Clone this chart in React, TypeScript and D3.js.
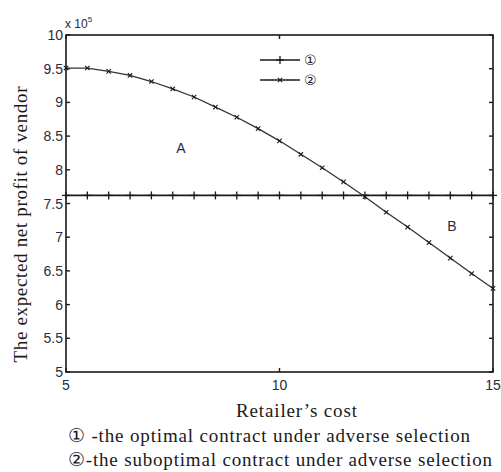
import React, { useEffect, useRef } from 'react'
import * as d3 from 'd3'

// Retailer's cost (x) and vendor profit (x 10^5)
const costs = [5, 5.5, 6, 6.5, 7, 7.5, 8, 8.5, 9, 9.5, 10, 10.5, 11, 11.5, 12, 12.5, 13, 13.5, 14, 14.5, 15]
const optimal = [7.62, 7.62, 7.62, 7.62, 7.62, 7.62, 7.62, 7.62, 7.62, 7.62, 7.62, 7.62, 7.62, 7.62, 7.62, 7.62, 7.62, 7.62, 7.62, 7.62, 7.62]
const suboptimal = [9.51, 9.51, 9.46, 9.40, 9.31, 9.20, 9.08, 8.93, 8.78, 8.61, 8.43, 8.23, 8.03, 7.82, 7.60, 7.37, 7.15, 6.92, 6.69, 6.46, 6.24]
const xTicks = [5, 10, 15]
const yTicks = [5, 5.5, 6, 6.5, 7, 7.5, 8, 8.5, 9, 9.5, 10]
const captions = ['\u2460 -the optimal contract under adverse selection', '\u2461-the suboptimal contract under adverse selection']

const W = 501
const H = 472
const SANS = "'Liberation Sans', Arial, sans-serif"
const SERIF = "'Liberation Serif', 'Times New Roman', serif"

export default function App() {
    const svgRef = useRef<SVGSVGElement>(null)

    useEffect(() => {
        if (!svgRef.current) return
        const svg = d3.select(svgRef.current)
        svg.selectAll('*').remove()

        const left = 66, right = 493, top = 35, bottom = 372
        const x = d3.scaleLinear().domain([5, 15]).range([left, right])
        const y = d3.scaleLinear().domain([5, 10]).range([bottom, top])
        const ink = '#1a1a1a'

        const g = svg.append('g')

        // frame
        g.append('rect')
            .attr('x', left).attr('y', top)
            .attr('width', right - left).attr('height', bottom - top)
            .attr('fill', 'none').attr('stroke', ink).attr('stroke-width', 1.6)

        // ticks, inward on all four sides
        yTicks.forEach(v => {
            g.append('line').attr('x1', left).attr('x2', left + 4).attr('y1', y(v)).attr('y2', y(v)).attr('stroke', ink).attr('stroke-width', 1.4)
            g.append('line').attr('x1', right).attr('x2', right - 4).attr('y1', y(v)).attr('y2', y(v)).attr('stroke', ink).attr('stroke-width', 1.4)
            g.append('text')
                .attr('x', left - 3).attr('y', y(v) + 5)
                .attr('text-anchor', 'end')
                .style('font-family', SANS)
                .style('font-size', '14px')
                .style('fill', '#2a2a3a')
                .text(String(v))
        })
        xTicks.forEach(v => {
            g.append('line').attr('x1', x(v)).attr('x2', x(v)).attr('y1', bottom).attr('y2', bottom - 4).attr('stroke', ink).attr('stroke-width', 1.4)
            g.append('line').attr('x1', x(v)).attr('x2', x(v)).attr('y1', top).attr('y2', top + 4).attr('stroke', ink).attr('stroke-width', 1.4)
            g.append('text')
                .attr('x', x(v)).attr('y', bottom + 18)
                .attr('text-anchor', 'middle')
                .style('font-family', SANS)
                .style('font-size', '14px')
                .style('fill', '#2a2a3a')
                .text(String(v))
        })

        // exponent label
        const ex = g.append('text')
            .attr('x', left - 1).attr('y', top - 7)
            .style('font-family', SANS)
            .style('font-size', '12px')
            .style('fill', '#2a2a3a')
        ex.append('tspan').text('x 10')
        ex.append('tspan').attr('dy', -6).style('font-size', '8px').text('5')

        const line = d3.line<number>().x((d, i) => x(costs[i])).y(d => y(d))

        const plus = (sel: any, cx: number, cy: number, s: number) => {
            sel.append('line').attr('x1', cx - s).attr('x2', cx + s).attr('y1', cy).attr('y2', cy).attr('stroke', ink).attr('stroke-width', 1.3)
            sel.append('line').attr('x1', cx).attr('x2', cx).attr('y1', cy - s).attr('y2', cy + s).attr('stroke', ink).attr('stroke-width', 1.3)
        }
        const cross = (sel: any, cx: number, cy: number, s: number) => {
            sel.append('line').attr('x1', cx - s).attr('x2', cx + s).attr('y1', cy - s).attr('y2', cy + s).attr('stroke', ink).attr('stroke-width', 1.1)
            sel.append('line').attr('x1', cx - s).attr('x2', cx + s).attr('y1', cy + s).attr('y2', cy - s).attr('stroke', ink).attr('stroke-width', 1.1)
        }

        // series 1 (+)
        g.append('path').datum(optimal).attr('d', line).attr('fill', 'none').attr('stroke', ink).attr('stroke-width', 1.6)
        optimal.forEach((v, i) => plus(g, x(costs[i]), y(v), 4))

        // series 2 (x)
        g.append('path').datum(suboptimal).attr('d', line).attr('fill', 'none').attr('stroke', '#333').attr('stroke-width', 1.3)
        suboptimal.forEach((v, i) => cross(g, x(costs[i]), y(v), 2.2))

        // legend
        const legend = [{ label: '\u2460', mark: plus, s: 4 }, { label: '\u2461', mark: cross, s: 2.2 }]
        legend.forEach((d, i) => {
            const ly = 60 + i * 20
            g.append('line').attr('x1', 260).attr('x2', 300).attr('y1', ly).attr('y2', ly).attr('stroke', ink).attr('stroke-width', 1.5)
            d.mark(g, 280, ly, d.s)
            g.append('text')
                .attr('x', 304).attr('y', ly + 5)
                .style('font-family', "'DejaVu Sans', sans-serif")
                .style('font-size', '14px')
                .style('fill', ink)
                .text(d.label)
        })

        // region labels
        g.append('text').attr('x', 181).attr('y', 153).attr('text-anchor', 'middle')
            .style('font-family', SANS).style('font-size', '14px').style('fill', '#2a2a3a').text('A')
        g.append('text').attr('x', 452).attr('y', 231).attr('text-anchor', 'middle')
            .style('font-family', SANS).style('font-size', '14px').style('fill', '#2a2a3a').text('B')

        // axis titles
        g.append('text')
            .attr('transform', `translate(27, ${(top + bottom) / 2 + 21}) rotate(-90)`)
            .attr('text-anchor', 'middle')
            .attr('textLength', 276)
            .style('font-family', SERIF)
            .style('font-size', '19px')
            .style('fill', ink)
            .text('The expected net profit of vendor')

        g.append('text')
            .attr('x', (left + right) / 2 + 17).attr('y', 417)
            .attr('text-anchor', 'middle')
            .attr('textLength', 121)
            .style('font-family', SERIF)
            .style('font-size', '19px')
            .style('fill', ink)
            .text('Retailer\u2019s cost')

        captions.forEach((c, i) => {
            g.append('text')
                .attr('x', 68).attr('y', 442 + i * 24)
                .attr('textLength', i === 0 ? 402 : 424)
                .style('font-family', SERIF)
                .style('font-size', '19px')
                .style('fill', ink)
                .text(c)
        })
    }, [])

    return (
        <svg ref={svgRef} width={W} height={H} viewBox={`0 0 ${W} ${H}`}
            style={{ position: 'absolute', left: 0, top: 0, background: '#fff' }} />
    )
}
